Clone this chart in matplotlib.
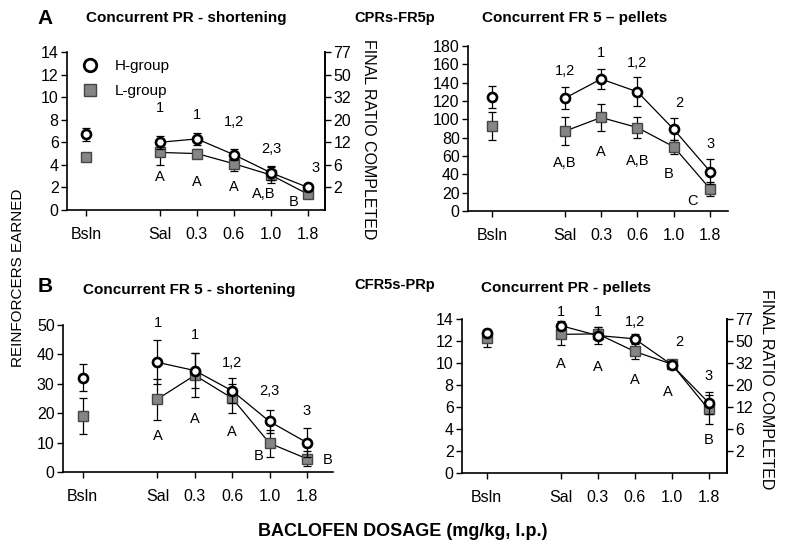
import matplotlib
matplotlib.use("Agg")
import matplotlib.pyplot as plt
from matplotlib.lines import Line2D

plt.rcParams['font.family'] = ['Liberation Sans', 'DejaVu Sans']

# x categories (Bsln separated from the dose series)
doses = ["Bsln", "Sal", "0.3", "0.6", "1.0", "1.8"]
xpos = [0, 2, 3, 4, 5, 6]

# A left: concurrent PR - shortening
a1_h = [6.7, 6.0, 6.3, 4.9, 3.3, 2.0]
a1_h_err = [0.6, 0.6, 0.5, 0.5, 0.6, 0.3]
a1_l = [4.7, 5.1, 5.0, 4.1, 3.1, 1.4]
a1_l_err = [0.3, 1.1, 0.4, 0.6, 0.7, 0.3]
a1_top = ["1", "1", "1,2", "2,3", "3"]
a1_top_y = [9.0, 8.4, 7.8, 5.4, 3.7]
a1_bot = ["A", "A", "A", "A,B", "B"]
a1_bot_y = [2.9, 2.5, 2.0, 1.4, 0.7]

# A right: concurrent FR 5 - pellets
a2_h = [124, 123, 144, 130, 89, 43]
a2_h_err = [12, 12, 11, 16, 12, 14]
a2_l = [93, 87, 102, 91, 70, 24]
a2_l_err = [15, 15, 15, 11, 8, 8]
a2_top = ["1,2", "1", "1,2", "2", "3"]
a2_top_y = [153, 172, 161, 118, 73]
a2_bot = ["A,B", "A", "A,B", "B", "C"]
a2_bot_y = [52, 64, 55, 40, 11]

# B left: concurrent FR 5 - shortening
b1_h = [32, 37.3, 34.5, 27.6, 17.2, 10]
b1_h_err = [4.6, 7.5, 6, 4.3, 4, 5]
b1_l = [19, 24.8, 32.9, 25.1, 9.8, 4.5]
b1_l_err = [6.2, 7, 7.5, 5, 4.6, 2.6]
b1_top = ["1", "1", "1,2", "2,3", "3"]
b1_top_y = [50.6, 46.6, 37, 27.4, 20.6]
b1_bot = ["A", "A", "A", "B", "B"]
b1_bot_y = [12.1, 18, 13.5, 5.5, 4]

# B right: concurrent PR - pellets
b2_h = [12.7, 13.4, 12.5, 12.2, 9.85, 6.4]
b2_h_err = [0.3, 0.4, 0.8, 0.4, 0.3, 1.0]
b2_l = [12.3, 12.6, 12.65, 11.05, 9.9, 5.8]
b2_l_err = [0.8, 1.0, 0.6, 0.7, 0.3, 1.3]
b2_top = ["1", "1", "1,2", "2", "3"]
b2_top_y = [14.6, 14.6, 13.7, 11.9, 8.8]
b2_bot = ["A", "A", "A", "A", "B"]
b2_bot_y = [9.9, 9.6, 8.5, 7.4, 3.0]

# right axis of the PR panels
pr_ticks = [2, 4, 6, 8, 10, 12, 14]
pr_labels = ["2", "6", "12", "20", "32", "50", "77"]

W, H = 790, 554
fig = plt.figure(figsize=(7.9, 5.54), dpi=100)


def add_ax(x0, x1, ytop, ybot):
    return fig.add_axes([x0 / W, 1 - ybot / H, (x1 - x0) / W, (ybot - ytop) / H])


def panel(ax, h, herr, l, lerr, top, top_y, bot, bot_y, top_dx, bot_dx, ylim, yticks, xlim):
    ek = dict(ecolor="black", elinewidth=0.9, capsize=3, capthick=0.9)
    ax.errorbar(xpos[1:], l[1:], yerr=lerr[1:], color="black", lw=0.9, zorder=2, **ek)
    ax.errorbar(xpos[:1], l[:1], yerr=lerr[:1], fmt="none", zorder=2, **ek)
    ax.plot(xpos, l, ls="none", marker="s", ms=6.5, mfc="#858585", mec="#454545", mew=1, zorder=3)
    ax.errorbar(xpos[1:], h[1:], yerr=herr[1:], color="black", lw=0.9, zorder=4, **ek)
    ax.errorbar(xpos[:1], h[:1], yerr=herr[:1], fmt="none", zorder=4, **ek)
    ax.plot(xpos, h, ls="none", marker="o", ms=6.5, mfc="white", mec="black", mew=1.9, zorder=5)
    for i, (t, y) in enumerate(zip(top, top_y)):
        ax.text(xpos[i + 1] + top_dx[i], y, t, ha="center", va="center", fontsize=10.5)
    for i, (t, y) in enumerate(zip(bot, bot_y)):
        ax.text(xpos[i + 1] + bot_dx[i], y, t, ha="center", va="center", fontsize=10.5)
    ax.set_xlim(*xlim)
    ax.set_ylim(*ylim)
    ax.set_yticks(yticks)
    ax.set_xticks(xpos)
    ax.set_xticklabels(doses)
    ax.spines["top"].set_visible(False)
    ax.spines["right"].set_visible(False)
    for s in ["left", "bottom"]:
        ax.spines[s].set_linewidth(1.2)
    ax.tick_params(direction="out", length=4, width=1, labelsize=11.5, pad=2)
    ax.tick_params(axis="x", pad=8)


def right_axis(ax):
    ax.spines["right"].set_visible(True)
    ax.spines["right"].set_linewidth(1.2)
    r = ax.twinx()
    r.set_ylim(ax.get_ylim())
    r.set_yticks(pr_ticks)
    r.set_yticklabels(pr_labels)
    for s in ["top", "left", "bottom"]:
        r.spines[s].set_visible(False)
    r.spines["right"].set_linewidth(1.2)
    r.tick_params(direction="out", length=4, width=1, labelsize=11.5, pad=2)


ax1 = add_ax(67, 325, 52, 210)
panel(ax1, a1_h, a1_h_err, a1_l, a1_l_err, a1_top, a1_top_y, a1_bot, a1_bot_y,
      [0, 0, 0, 0, 0.2], [0, 0, 0, -0.2, -0.4], (0, 14), range(0, 15, 2), (-0.51, 6.46))
right_axis(ax1)
ax1.legend(handles=[Line2D([], [], ls="none", marker="o", ms=9, mfc="white", mec="black", mew=2),
                    Line2D([], [], ls="none", marker="s", ms=9, mfc="#858585", mec="#454545")],
           labels=["H-group", "L-group"], loc="upper left", bbox_to_anchor=(0.0, 1.04),
           frameon=False, fontsize=11, handlelength=1.2, handletextpad=1.0, labelspacing=0.7)

ax2 = add_ax(468, 728, 46, 211)
panel(ax2, a2_h, a2_h_err, a2_l, a2_l_err, a2_top, a2_top_y, a2_bot, a2_bot_y,
      [0, 0, 0, 0.15, 0], [0, 0, 0, -0.15, -0.5], (0, 180), range(0, 181, 20), (-0.66, 6.49))

ax3 = add_ax(63, 333, 325, 472)
panel(ax3, b1_h, b1_h_err, b1_l, b1_l_err, b1_top, b1_top_y, b1_bot, b1_bot_y,
      [0, 0, 0, 0, 0], [0, 0, 0, -0.3, 0.55], (0, 50), range(0, 51, 10), (-0.53, 6.7))

ax4 = add_ax(462, 727, 319, 473)
panel(ax4, b2_h, b2_h_err, b2_l, b2_l_err, b2_top, b2_top_y, b2_bot, b2_bot_y,
      [0, 0, 0, 0.2, 0], [0, 0, 0, -0.1, 0], (0, 14), range(0, 15, 2), (-0.67, 6.5))
right_axis(ax4)


def ftext(x, y, s, **kw):
    fig.text(x / W, 1 - y / H, s, ha="center", va="center", **kw)


ftext(45, 18, "A", fontsize=15, fontweight="bold")
ftext(45, 286, "B", fontsize=15, fontweight="bold")
ftext(186, 18, "Concurrent PR - shortening", fontsize=11, fontweight="bold")
ftext(575, 18, "Concurrent FR 5 \u2013 pellets", fontsize=11, fontweight="bold")
ftext(189, 290, "Concurrent FR 5 - shortening", fontsize=11, fontweight="bold")
ftext(566, 288, "Concurrent PR - pellets", fontsize=11, fontweight="bold")
ftext(395, 18, "CPRs-FR5p", fontsize=10.5, fontweight="bold")
ftext(395, 285, "CFR5s-PRp", fontsize=10.5, fontweight="bold")
ftext(18, 278, "REINFORCERS EARNED", fontsize=11, rotation=90)
ftext(368, 139, "FINAL RATIO COMPLETED", fontsize=11.5, rotation=-90)
ftext(767, 389, "FINAL RATIO COMPLETED", fontsize=11.5, rotation=-90)
ftext(403, 532, "BACLOFEN DOSAGE (mg/kg, l.p.)", fontsize=13, fontweight="bold")

fig.savefig("out.png", dpi=100)
